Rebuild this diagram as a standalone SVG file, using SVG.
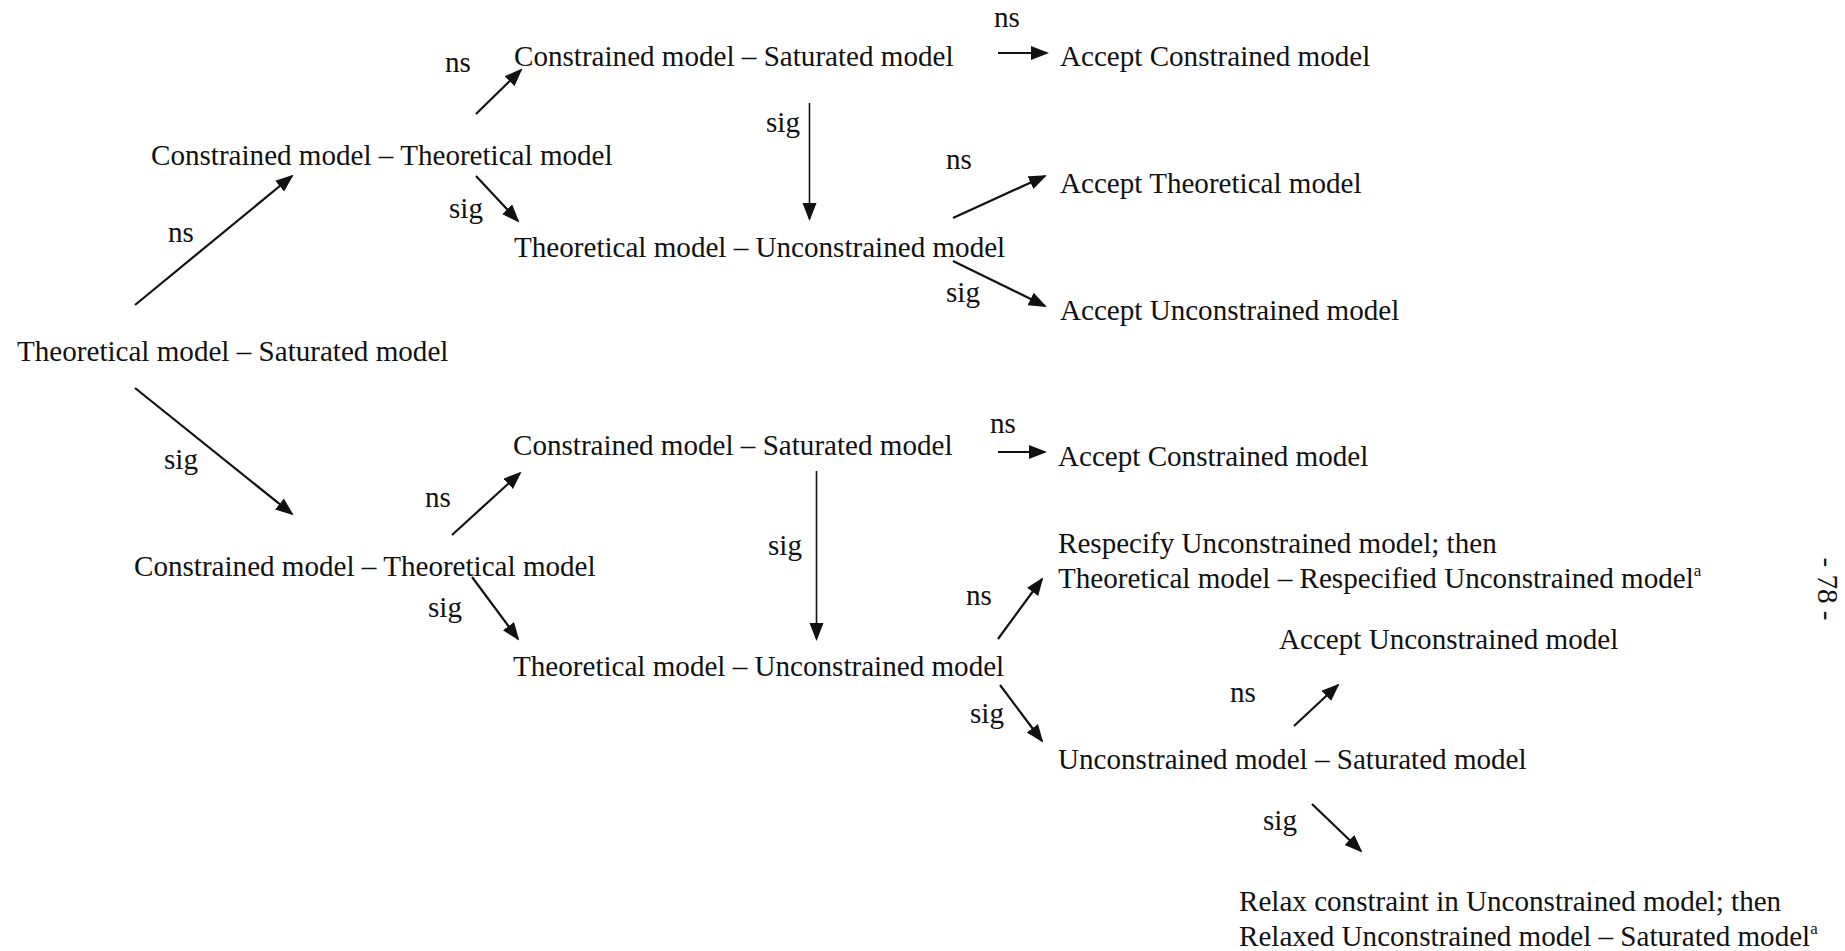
<svg xmlns="http://www.w3.org/2000/svg" width="1845" height="951" viewBox="0 0 1845 951">
  <defs>
    <style>
      text { font-family: "Liberation Serif", "Times New Roman", serif; font-size: 29.1px; fill: #111; }
      .sup { font-size: 17px; }
      .conn line { stroke: #111; stroke-width: 2.2; fill: none; marker-end: url(#head); }
      .conn line.v { stroke-width: 1.6; }
    </style>
    <marker id="head" markerUnits="userSpaceOnUse" markerWidth="20" markerHeight="16" refX="16" refY="7" orient="auto">
      <path d="M0,0 L18,7 L0,14 z" fill="#111"/>
    </marker>
  </defs>
  <rect width="1845" height="951" fill="#fff"/>

  <!-- connectors -->
  <g id="connectors" class="conn">
    <line x1="135" y1="305" x2="292" y2="176"/>
    <line x1="135" y1="388" x2="292" y2="514"/>
    <line x1="476" y1="114" x2="521" y2="70"/>
    <line x1="476" y1="176" x2="518" y2="221"/>
    <line class="v" x1="809.5" y1="103" x2="809.5" y2="219"/>
    <line x1="998" y1="53" x2="1047" y2="53"/>
    <line x1="953" y1="218" x2="1045" y2="176"/>
    <line x1="953" y1="261" x2="1045" y2="306"/>
    <line x1="452" y1="535" x2="520" y2="473"/>
    <line x1="472" y1="577" x2="518" y2="639"/>
    <line class="v" x1="816.5" y1="471" x2="816.5" y2="639"/>
    <line x1="998" y1="452" x2="1045" y2="452"/>
    <line x1="998" y1="639" x2="1042" y2="579"/>
    <line x1="1000" y1="685" x2="1042" y2="741"/>
    <line x1="1294" y1="726" x2="1338" y2="685"/>
    <line x1="1312" y1="804" x2="1361" y2="851"/>
  </g>

  <!-- edge labels -->
  <g id="edge-labels">
    <text x="168" y="242">ns</text>
    <text x="164" y="469">sig</text>
    <text x="445" y="72">ns</text>
    <text x="449" y="218">sig</text>
    <text x="766" y="132">sig</text>
    <text x="994" y="27">ns</text>
    <text x="946" y="169">ns</text>
    <text x="946" y="302">sig</text>
    <text x="425" y="507">ns</text>
    <text x="428" y="617">sig</text>
    <text x="768" y="555">sig</text>
    <text x="990" y="433">ns</text>
    <text x="966" y="605">ns</text>
    <text x="970" y="723">sig</text>
    <text x="1230" y="702">ns</text>
    <text x="1263" y="830">sig</text>
  </g>

  <!-- decision nodes -->
  <g id="n-theo-sat"><text x="17" y="361">Theoretical model – Saturated model</text></g>
  <g id="n-con-theo-1"><text x="151" y="165">Constrained model – Theoretical model</text></g>
  <g id="n-con-sat-1"><text x="514" y="66">Constrained model – Saturated model</text></g>
  <g id="n-accept-con-1"><text x="1060" y="66">Accept Constrained model</text></g>
  <g id="n-theo-uncon-1"><text x="514" y="257">Theoretical model – Unconstrained model</text></g>
  <g id="n-accept-theo"><text x="1060" y="193">Accept Theoretical model</text></g>
  <g id="n-accept-uncon-1"><text x="1060" y="320">Accept Unconstrained model</text></g>

  <g id="n-con-theo-2"><text x="134" y="576">Constrained model – Theoretical model</text></g>
  <g id="n-con-sat-2"><text x="513" y="455">Constrained model – Saturated model</text></g>
  <g id="n-accept-con-2"><text x="1058" y="466">Accept Constrained model</text></g>
  <g id="n-theo-uncon-2"><text x="513" y="676">Theoretical model – Unconstrained model</text></g>
  <g id="n-respecify">
    <text x="1058" y="553">Respecify Unconstrained model; then</text>
    <text x="1058" y="588">Theoretical model – Respecified Unconstrained model<tspan class="sup" dy="-12">a</tspan></text>
  </g>
  <g id="n-uncon-sat"><text x="1058" y="769">Unconstrained model – Saturated model</text></g>
  <g id="n-accept-uncon-2"><text x="1279" y="649">Accept Unconstrained model</text></g>
  <g id="n-relax">
    <text x="1239" y="911">Relax constraint in Unconstrained model; then</text>
    <text x="1239" y="946">Relaxed Unconstrained model – Saturated model<tspan class="sup" dy="-12">a</tspan></text>
  </g>

  <!-- page number, printed sideways -->
  <text x="1818" y="589" text-anchor="middle" transform="rotate(90 1818 589)">- 78 -</text>
</svg>
